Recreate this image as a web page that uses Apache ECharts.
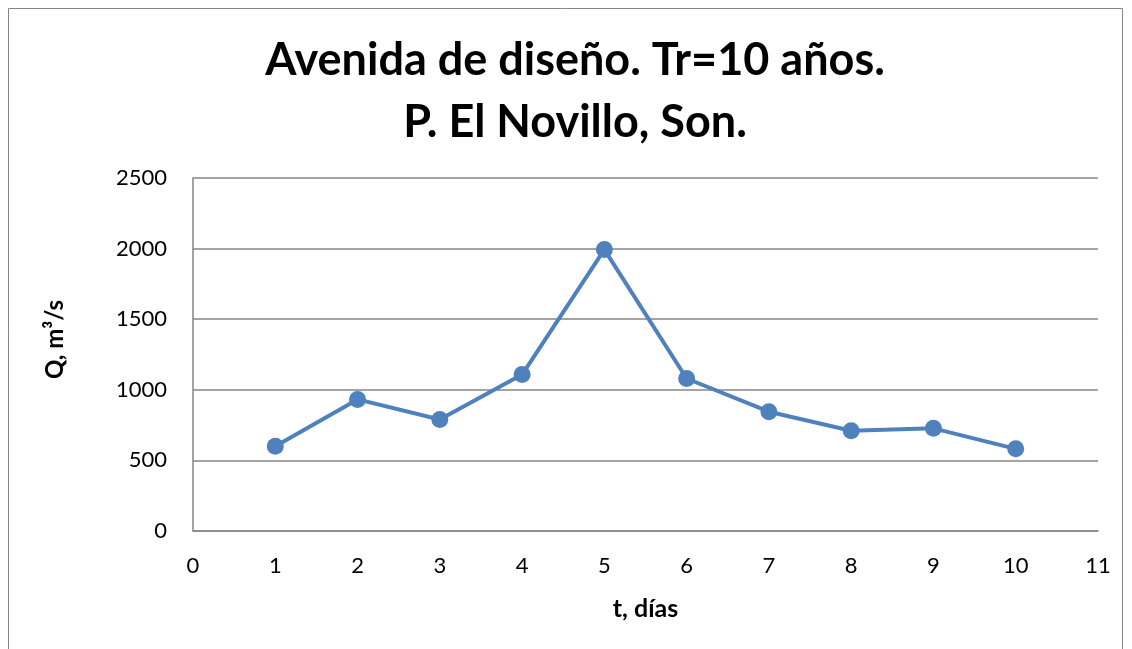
<!DOCTYPE html>
<html>
<head>
<meta charset="utf-8">
<script src="https://cdn.jsdelivr.net/npm/echarts@6/dist/echarts.min.js"></script>
<style>
  html, body { margin: 0; padding: 0; background: #fff; }
  #chart { width: 1132px; height: 649px; }
</style>
</head>
<body>
<div id="chart"></div>
<script>
// dias y caudales
const dias = [1, 2, 3, 4, 5, 6, 7, 8, 9, 10]
const caudales = [601, 932, 790, 1108, 1993, 1080, 845, 710, 727, 582]
const titulo = ['Avenida de diseño. Tr=10 años.', 'P. El Novillo, Son.']

const chart = echarts.init(document.getElementById('chart'))

const font = 'Lato, "Open Sans", sans-serif'
const gridColor = '#868686'
const titleFont = 'bold 45px Lato, "Open Sans", sans-serif'

chart.setOption({
  animation: false,
  textStyle: { fontFamily: font },
  graphic: [{
    type: 'rect',
    shape: { x: 8.5, y: 8.5, width: 1114, height: 660 },
    style: { fill: 'none', stroke: gridColor, lineWidth: 1 },
    silent: true
  }, {
    type: 'text',
    x: 575, y: 60,
    style: { text: titulo[0], font: titleFont, fill: '#000', align: 'center', verticalAlign: 'middle' },
    silent: true
  }, {
    type: 'text',
    x: 575, y: 122,
    style: { text: titulo[1], font: titleFont, fill: '#000', align: 'center', verticalAlign: 'middle' },
    silent: true
  }],
  grid: { left: 193, right: 34, top: 178, bottom: 118 },
  xAxis: {
    type: 'value',
    min: 0,
    max: 11,
    interval: 1,
    name: 't, días',
    nameLocation: 'middle',
    nameGap: 65,
    nameTextStyle: { fontFamily: font, fontSize: 25, fontWeight: 'bold', color: '#000' },
    axisLine: { show: true, lineStyle: { color: gridColor, width: 1.5 } },
    axisTick: { show: false },
    splitLine: { show: false },
    axisLabel: { fontFamily: font, fontSize: 22, color: '#000', margin: 24 }
  },
  yAxis: {
    type: 'value',
    min: 0,
    max: 2500,
    interval: 500,
    name: 'Q, m³/s',
    nameLocation: 'middle',
    nameGap: 126,
    nameTextStyle: { fontFamily: font, fontSize: 24, fontWeight: 'bold', color: '#000', padding: [0, 0, 0, 30] },
    axisLine: { show: true, lineStyle: { color: gridColor, width: 1.5 } },
    axisTick: { show: false },
    splitLine: { show: true, lineStyle: { color: gridColor, width: 1.5 } },
    axisLabel: { fontFamily: font, fontSize: 22, color: '#000', margin: 26, formatter: v => String(v) }
  },
  series: [{
    type: 'line',
    data: dias.map((d, i) => [d, caudales[i]]),
    symbol: 'circle',
    symbolSize: 17,
    lineStyle: { color: '#4F81BD', width: 4 },
    itemStyle: { color: '#4F81BD' }
  }]
})
</script>
</body>
</html>
